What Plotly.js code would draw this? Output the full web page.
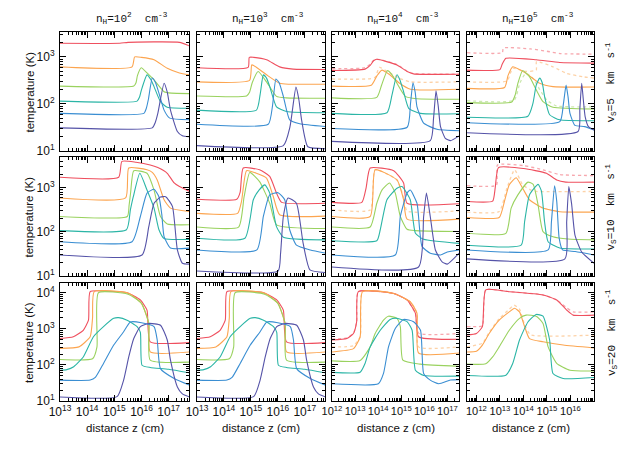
<!DOCTYPE html>
<html><head><meta charset="utf-8">
<script src="https://cdn.plot.ly/plotly-3.0.1.min.js"></script>
<style>html,body{margin:0;padding:0;background:#fff}#chart{width:628px;height:450px}</style>
</head><body><div id="chart"></div>
<script>
// ---------- tick labels ----------
const xTicks12 = [1e13, 1e14, 1e15, 1e16, 1e17];
const xText12 = ['10<sup>13</sup>','10<sup>14</sup>','10<sup>15</sup>','10<sup>16</sup>','10<sup>17</sup>'];
const xTicks3 = [1e12, 1e13, 1e14, 1e15, 1e16, 1e17];
const xText3 = ['10<sup>12</sup>','10<sup>13</sup>','10<sup>14</sup>','10<sup>15</sup>','10<sup>16</sup>','10<sup>17</sup>'];
const xTicks4 = [1e12, 1e13, 1e14, 1e15, 1e16];
const xText4 = ['10<sup>12</sup>','10<sup>13</sup>','10<sup>14</sup>','10<sup>15</sup>','10<sup>16</sup>'];
const yTicks = [10, 100, 1000, 10000];
const yText = ['10<sup>1</sup>','10<sup>2</sup>','10<sup>3</sup>','10<sup>4</sup>'];
const colTitles = ['n<sub>H</sub>=10<sup>2</sup>\u00A0 cm<sup>-3</sup>','n<sub>H</sub>=10<sup>3</sup>\u00A0 cm<sup>-3</sup>','n<sub>H</sub>=10<sup>4</sup>\u00A0 cm<sup>-3</sup>','n<sub>H</sub>=10<sup>5</sup>\u00A0 cm<sup>-3</sup>'];
const rowTitles = ['v<sub>S</sub>=5\u00A0 km\u00A0 s<sup>-1</sup>','v<sub>S</sub>=10\u00A0 km\u00A0 s<sup>-1</sup>','v<sub>S</sub>=20\u00A0 km\u00A0 s<sup>-1</sup>'];

// ---------- data: distance z (cm) and temperature (K) ----------
// row 1 (v=5), col 1 (n=1e2)
const z11r=[1e13,1.6e15,3.2e15,2.5e17,6e17], t11r=[1950,1950,2040,2040,1700];
const z11o=[1e13,4.5e15,5.6e15,1e16,2.9e16,8.9e16,2.5e17,6e17], t11o=[615,615,1000,980,870,575,457,415];
const z11g=[1e13,5.2e15,6.3e15,7.1e15,9.8e15,1.6e16,2.9e16,6.8e16,1.26e17,6e17], t11g=[240,240,282,400,590,457,324,182,170,166];
const z11t=[1e13,6.9e15,8.5e15,1e16,1.6e16,2.2e16,2.9e16,5e16,8.9e16,6e17], t11t=[115,115,140,200,415,330,234,112,85,81];
const z11b=[1e13,1.23e16,1.5e16,1.8e16,2.5e16,3.3e16,4.4e16,6.8e16,1.1e17,6e17], t11b=[63,63,80,126,355,282,170,74,50,46];
const z11d=[1e13,2.5e16,3.2e16,4e16,6.8e16,8.9e16,1.17e17,2.1e17,3.2e17,6e17], t11d=[31,31,40,63,275,178,74,26,21,20];
// row 1, col 2
const z12r=[1e13,7.9e14,8.7e14,1.26e15,3.8e15,1.17e16,3.7e16,6e17], t12r=[590,600,980,980,870,615,550,540];
const z12o=[1e13,8.9e14,1.07e15,1.26e15,3.8e15,1.17e16,2.5e16,6e17], t12o=[295,316,675,660,417,275,263,263];
const z12g=[1e13,6.9e14,9e14,1.12e15,1.86e15,3.8e15,8.9e15,2e16,6e17], t12g=[148,148,180,282,490,295,145,135,132];
const z12t=[1e13,1.6e15,2.2e15,2.9e15,3.8e15,5e15,8.9e15,2.1e16,6e17], t12t=[74,74,158,415,355,234,87,69,65];
const z12b=[1e13,4.4e15,6.3e15,8.5e15,1.12e16,1.6e16,2.75e16,6.5e16,6e17], t12b=[37,37,89,340,282,145,46,38,33];
const z12d=[1e13,1.6e16,2.8e16,4.7e16,6e16,7.6e16,1.3e17,6e17], t12d=[13,13,32,228,126,46,12.3,11.2];
// row 1, col 3
const z13r=[1e12,2.7e13,4.5e13,6.3e13,8.7e13,6.5e14,1.8e15,3.4e15,3.2e17], t13r=[513,550,660,830,890,676,490,437,427];
const t13rd=[560,590,700,850,900,690,500,445,432];
const z13o=[1e12,5e13,8.9e13,1.45e14,3.2e14,7.9e14,2.5e15,3.2e17], t13o=[240,250,400,525,417,282,205,205];
const z13od=[1e12,7.1e13,1.12e14,3.2e14,7.9e14,2.5e15,3.2e17], t13od=[340,363,600,457,355,295,295];
const z13g=[1e12,8.7e13,1.4e14,2.5e14,4e14,6.5e14,1.5e15,4.8e15,3.2e17], t13g=[135,138,250,510,417,275,145,129,126];
const z13t=[1e12,2.4e14,4e14,6.5e14,8.9e14,1.26e15,2.1e15,6.8e15,3.2e17], t13t=[63,65,158,417,316,182,81,63,62];
const z13b=[1e12,1.8e15,2.5e15,3.2e15,4e15,4.8e15,9.3e15,3.5e16,3.2e17], t13b=[30,32,100,282,178,87,39,29,27];
const z13d=[1e12,1.8e16,2.5e16,3.2e16,4e16,5e16,8.1e16,1.35e17,3.2e17], t13d=[16,16.6,50,190,89,33,18.6,16.6,21];
// row 1, col 4
const z14rd=[4e11,1.26e13,1.4e13,2e14,1e15,4e15,1e17], t14rd=[1230,1230,1550,1480,1320,1175,1150];
const z14r=[4e11,1e13,1.26e13,1.8e13,3.5e14,3.5e15,1e17], t14r=[525,537,708,933,870,760,740];
const z14o=[4e11,1.58e13,2.2e13,3.5e13,1.3e14,4.9e14,1.8e15,1e17], t14o=[215,224,400,617,447,275,234,229];
const z14od=[4e11,2e13,3.5e13,1.26e14,3.5e14,3.6e14,1.8e15,6.9e15,3.2e16,1e17], t14od=[295,310,575,490,525,795,617,447,380,355];
const z14g=[4e11,3.2e13,4.5e13,5.8e13,9.3e13,1.8e14,3.5e14,6.8e14,1.8e15,1e17], t14g=[107,110,158,275,513,380,200,112,85,78];
const z14gd=[4e11,4e13,7.1e13,1.26e14,2.5e14,5e14,1e15,2.5e15,1e17], t14gd=[117,120,282,447,355,200,120,91,87];
const z14t=[4e11,1.55e14,2.5e14,3.5e14,4.9e14,6.3e14,7.9e14,1.3e15,3.5e15,1e17], t14t=[52,55,100,251,355,282,145,59,46,44];
const z14b=[4e11,3.5e15,5e15,6.5e15,7.9e15,9.5e15,1.55e16,4e16,1e17], t14b=[40,42,100,251,141,63,35,33,28];
const z14d=[4e11,2.1e16,2.5e16,3e16,3.5e16,4.2e16,5.8e16,1e17], t14d=[24.5,26,79,275,126,54,33,28];
// row 2 (v=10), col 1
const z21r=[1e13,1.45e15,1.9e15,6.3e15,2.1e16,4e16,8.9e16,1.6e17,2.5e17,6e17], t21r=[1740,1740,3980,3800,3310,2880,2140,1290,1070,830];
const z21o=[1e13,2.6e15,3.4e15,1.6e16,2.5e16,3.8e16,6.8e16,1.17e17,6e17], t21o=[590,590,2820,2570,2240,1510,537,347,290];
const z21g=[1e13,3e15,3.5e15,4e15,5.2e15,1.6e16,2.9e16,5e16,8.9e16,6e17], t21g=[224,224,400,795,2450,2140,890,224,151,145];
const z21t=[1e13,2.8e15,3.9e15,5e15,8.7e15,1.6e16,2.9e16,4.4e16,6.8e16,6e17], t21t=[107,112,316,630,2140,890,347,112,71,68];
const z21b=[1e13,4.5e15,9.1e15,1.6e16,2.9e16,4.4e16,5.6e16,6.8e16,1.17e17,6e17], t21b=[60,60,224,760,930,630,250,78,43,43];
const z21d=[1e13,1.05e16,1.86e16,2.9e16,5e16,7.8e16,1.38e17,2.1e17,3.2e17,6e17], t21d=[30,30,132,447,617,630,380,39,19.5,18.6];
// row 2, col 2
const z22r=[1e13,3e14,4e14,5.2e14,2.1e15,5e15,8.9e15,1.38e16,6e17], t22r=[550,550,800,2820,2570,1820,760,468,447];
const z22o=[1e13,3.2e14,4.5e14,6.9e14,1.6e15,3.8e15,6.8e15,1.17e16,6e17], t22o=[263,263,500,2450,2140,1660,630,245,229];
const z22g=[1e13,3.5e14,5.6e14,9.1e14,2.1e15,5e15,8.9e15,6e17], t22g=[129,129,630,2240,1380,447,145,120];
const z22t=[1e13,6e14,1.23e15,2e15,3.3e15,5e15,8.9e15,1.6e16,6e17], t22t=[72,72,537,890,1170,760,132,76,66];
const z22b=[1e13,1.66e15,2.9e15,5e15,1.02e16,1.8e16,2.75e16,4.9e16,1.6e17,6e17], t22b=[39,39,224,692,776,537,112,50,39,33];
const z22d=[1e13,1.02e16,1.26e16,1.6e16,2.4e16,4.9e16,8.7e16,1.55e17,6e17], t22d=[13,13,32,224,589,447,55,13.8,12];
// row 2, col 3
const z23r=[1e12,1.95e13,3e13,4.5e13,4.7e14,1.26e15,1.78e15,3.2e17], t23r=[468,468,1000,2820,2450,1290,447,437];
const z23o=[1e12,4.5e13,7.4e13,6.5e14,1.26e15,1.78e15,3.2e17], t23o=[224,224,2570,1510,537,195,195];
const t23od=[316,316,2570,1510,600,300,300];
const z23g=[1e12,4.5e13,8.7e13,1.45e14,3.1e14,5.5e14,9.1e14,1.78e15,4e15,3.2e17], t23g=[129,129,447,890,1290,760,224,115,107,102];
const z23t=[1e12,8.7e13,1.23e14,2.4e14,6.5e14,1.07e15,2.45e15,4.1e15,9.3e15,3.2e17], t23t=[63,63,112,537,977,1070,537,93,68,55];
const z23b=[1e12,5.5e14,9.1e14,1.78e15,2.45e15,4.8e15,7.9e15,1.8e16,5e16,9.8e16,3.2e17], t23b=[30,30,224,760,890,447,47,33,30,35,39];
const z23d=[1e12,5.6e15,9.3e15,1.23e16,1.8e16,3e16,5.9e16,9.8e16,3.2e17], t23d=[16,16,224,760,224,39,21,18.6,33];
// row 2, col 4
const z24rd=[4e11,7.1e12,7.9e12,1e14,6.8e14,3.5e15,1e17], t24rd=[1120,1150,3300,3200,2570,2000,1900];
const z24r=[4e11,4.9e12,6.3e12,8.7e12,1e14,9.5e14,2.6e15,6.3e15,1e17], t24r=[490,500,1000,2880,2750,2140,1510,1350,1350];
const z24o=[4e11,9.3e12,1.55e13,2.5e13,4.9e13,9.3e13,1.8e14,6.8e14,3.5e15,1e17], t24o=[213,213,490,1175,1700,977,537,347,288,282];
const z24od=[4e11,9.3e12,2e13,4.2e13,9.3e13,2e14,3.5e14,1e17], t24od=[282,290,1000,2570,1175,900,830,830];
const z24g=[4e11,1.8e13,3e13,5.8e13,1.55e14,2.6e14,4.2e14,6.8e14,1.8e15,7.9e15,1e17], t24g=[93,93,347,692,1350,1200,407,102,78,69,66];
const z24t=[4e11,8e13,1.12e14,1.8e14,4.2e14,5.8e14,7.9e14,1.12e15,3.5e15,1e17], t24t=[50,50,170,692,1200,850,170,60,43,41];
const z24b=[4e11,1.12e15,1.55e15,2.1e15,2.6e15,3.3e15,4.6e15,1.6e16,1e17], t24b=[39,39,170,1120,500,72,39,36,30];
const z24d=[4e11,5.8e15,6.9e15,8.5e15,1.12e16,1.55e16,3e16,1e17], t24d=[24.5,24.5,170,1070,427,85,35,19.5];
// row 3 (v=20), col 1
const z31r=[1e13,3.1e13,7.2e13,1.12e14,1.29e14,6.3e14,2.95e15,9.1e15,1.6e16,2.1e16,6e17], t31r=[537,603,912,1740,10700,11000,10000,6310,3310,437,417];
const z31o=[1e13,5e13,1.29e14,1.58e14,1.82e14,3.2e15,1e16,1.86e16,2.1e16,6e17], t31o=[288,316,603,2000,10700,9800,5100,1410,229,229];
const z31g=[1e13,1.58e14,2.3e14,2.6e14,3.2e15,1e16,1.86e16,2.1e16,6e17], t31g=[141,148,316,10000,9100,5100,1410,135,120];
const z31t=[1e13,1.78e13,3.2e13,7.2e13,1.7e14,4e14,9.5e14,1.45e15,2.95e15,6.9e15,9.1e15,1.05e16,2.1e16,1e17,6e17], t31t=[71,74,89,166,603,1150,1950,2040,1740,1150,794,98,85,76,60];
const z31b=[1e13,1.29e14,2e14,4e14,9.5e14,2.2e15,3.9e15,1e16,2.9e16,3.8e16,5e16,1.6e17,6e17], t31b=[38,38,45,110,355,830,1550,1480,1150,490,79,42,27.5];
const z31d=[1e13,1.26e15,2.2e15,3.4e15,5.2e15,9.1e15,1.86e16,5e16,8.9e16,1.17e17,2.1e17,3.2e17,6e17], t31d=[12.9,13.2,38,166,537,1150,1410,1260,490,135,24.5,15.8,12.9];
// row 3, col 2
const z32r=[1e13,3.1e13,7.2e13,1.12e14,1.29e14,6.3e14,2.95e15,9.1e15,1.6e16,2.1e16,6e17], t32r=[537,603,912,1740,10700,11000,10000,6310,3310,437,417];
const z32o=[1e13,5e13,1.29e14,1.58e14,1.82e14,3.2e15,1e16,1.86e16,2.1e16,6e17], t32o=[288,316,603,2000,10700,9800,5100,1410,229,229];
const z32g=[1e13,1.58e14,2.3e14,2.6e14,3.2e15,1e16,1.86e16,2.1e16,6e17], t32g=[141,148,316,10000,9100,5100,1410,135,120];
const z32t=[1e13,1.78e13,3.2e13,7.2e13,1.7e14,4e14,9.5e14,1.45e15,2.95e15,6.9e15,9.1e15,1.05e16,2.1e16,1e17,6e17], t32t=[71,74,89,166,603,1150,1950,2040,1740,1150,794,98,85,76,60];
const z32b=[1e13,1.29e14,2e14,4e14,9.5e14,2.2e15,3.9e15,1e16,2.9e16,3.8e16,5e16,1.6e17,6e17], t32b=[38,38,45,110,355,830,1550,1480,1150,490,79,42,27.5];
const z32d=[1e13,1.26e15,2.2e15,3.4e15,5.2e15,9.1e15,1.86e16,5e16,8.9e16,1.17e17,2.1e17,3.2e17,6e17], t32d=[12.9,13.2,38,166,537,1150,1410,1260,490,135,24.5,15.8,12.9];
// row 3, col 3
const z33r=[1e12,4.4e12,8.5e12,1.17e13,1.38e13,4.7e14,1.78e15,4.1e15,5.6e15,3.2e17], t33r=[490,537,741,1580,10700,9550,6310,2690,603,513];
const t33rd=[520,560,760,1580,10700,9550,6310,2690,760,741];
const z33o=[1e12,8.5e12,1.66e13,2.1e13,4.7e14,2.45e15,4.8e15,5.6e15,3.2e17], t33o=[229,282,603,10700,9550,5620,2690,214,214];
const t33od=[316,340,603,10700,9550,5620,2690,316,316];
const z33g=[1e12,1.66e13,4.5e13,7.4e13,1.7e14,2.8e14,6.5e14,9.1e14,1.17e15,6.8e15,3.2e17], t33g=[129,132,316,741,1740,2240,1950,1150,135,105,91];
const z33t=[1e12,1.66e13,2.7e13,4.5e13,1.23e14,3.3e14,6.5e14,1.78e15,2.95e15,4.1e15,9.3e15,3.2e17], t33t=[62,63,110,316,912,1820,1950,1580,912,71,51,49];
const z33b=[1e12,1.02e14,1.7e14,2.8e14,5.5e14,1.26e15,3.4e15,6.8e15,9.3e15,1.8e16,4.2e16,1.35e17,3.2e17], t33b=[30,30,58,316,1020,1820,1580,912,58,38,30,38,39];
// row 3, col 4
const z34r=[4e11,1e12,1.8e12,2.5e12,2.5e13,6.8e14,2.6e15,6.9e15,1.3e16,1e17], t34r=[676,741,1150,12000,10700,8700,6310,3310,2400,2400];
const t34rd=[1150,1150,1200,12000,10700,8700,6310,3800,2950,2950];
const z34o=[4e11,1e12,1.8e12,3.5e12,9.3e12,2.5e13,4.2e13,6.8e13,1.12e14,1.8e14,6.8e14,4.9e15,1e17], t34o=[229,240,355,741,1740,2950,3700,2950,1150,537,437,355,295];
const z34od=[4e11,1.8e12,3.5e12,9.3e12,2.5e13,4e13,6.8e13,1.12e14,2e14,1e17], t34od=[316,400,800,1900,3500,4570,3500,1300,690,670];
const z34g=[4e11,2.5e12,4.9e12,9.3e12,2.5e13,6.8e13,1.3e14,3.5e14,6.8e14,1.12e15,2.6e15,9.5e15,1e17], t34g=[105,107,166,316,912,1950,2400,2240,1410,316,110,71,68];
const z34t=[4e11,1.8e13,3.5e13,6.8e13,1.55e14,3.5e14,6.8e14,1.3e15,1.8e15,4.9e15,1e17], t34t=[51,52,110,490,1550,2510,2240,490,58,42,45];

// ---------- styling ----------
const COL = {r:'#ef4f5e', o:'#fca550', g:'#9ad25f', t:'#2bb5a6', b:'#3a8ed2', d:'#5553a8'};
const W = 628, H = 450;
const colPx = [[60,189],[197,325],[332,459],[467,594]];
const rowPx = [[32,151],[157,276],[283,401]];
const xRanges = [[13,17.75],[13,17.75],[12,17.5],[11.6,17.0]];
const yRanges = [[1,3.53],[1,3.7],[1,4.27]];

// panels: [row, col, list of [z, T, colour, dotted]]
const panels = [
 [1,1,[[z11r,t11r,'r'],[z11o,t11o,'o'],[z11g,t11g,'g'],[z11t,t11t,'t'],[z11b,t11b,'b'],[z11d,t11d,'d']]],
 [1,2,[[z12r,t12r,'r'],[z12o,t12o,'o'],[z12g,t12g,'g'],[z12t,t12t,'t'],[z12b,t12b,'b'],[z12d,t12d,'d']]],
 [1,3,[[z13r,t13rd,'r',1],[z13od,t13od,'o',1],[z13r,t13r,'r'],[z13o,t13o,'o'],[z13g,t13g,'g'],[z13t,t13t,'t'],[z13b,t13b,'b'],[z13d,t13d,'d']]],
 [1,4,[[z14rd,t14rd,'r',1],[z14od,t14od,'o',1],[z14gd,t14gd,'g',1],[z14r,t14r,'r'],[z14o,t14o,'o'],[z14g,t14g,'g'],[z14t,t14t,'t'],[z14b,t14b,'b'],[z14d,t14d,'d']]],
 [2,1,[[z21r,t21r,'r'],[z21o,t21o,'o'],[z21g,t21g,'g'],[z21t,t21t,'t'],[z21b,t21b,'b'],[z21d,t21d,'d']]],
 [2,2,[[z22r,t22r,'r'],[z22o,t22o,'o'],[z22g,t22g,'g'],[z22t,t22t,'t'],[z22b,t22b,'b'],[z22d,t22d,'d']]],
 [2,3,[[z23o,t23od,'o',1],[z23r,t23r,'r'],[z23o,t23o,'o'],[z23g,t23g,'g'],[z23t,t23t,'t'],[z23b,t23b,'b'],[z23d,t23d,'d']]],
 [2,4,[[z24rd,t24rd,'r',1],[z24od,t24od,'o',1],[z24r,t24r,'r'],[z24o,t24o,'o'],[z24g,t24g,'g'],[z24t,t24t,'t'],[z24b,t24b,'b'],[z24d,t24d,'d']]],
 [3,1,[[z31r,t31r,'r'],[z31o,t31o,'o'],[z31g,t31g,'g'],[z31t,t31t,'t'],[z31b,t31b,'b'],[z31d,t31d,'d']]],
 [3,2,[[z32r,t32r,'r'],[z32o,t32o,'o'],[z32g,t32g,'g'],[z32t,t32t,'t'],[z32b,t32b,'b'],[z32d,t32d,'d']]],
 [3,3,[[z33r,t33rd,'r',1],[z33o,t33od,'o',1],[z33r,t33r,'r'],[z33o,t33o,'o'],[z33g,t33g,'g'],[z33t,t33t,'t'],[z33b,t33b,'b']]],
 [3,4,[[z34r,t34rd,'r',1],[z34od,t34od,'o',1],[z34r,t34r,'r'],[z34o,t34o,'o'],[z34g,t34g,'g'],[z34t,t34t,'t']]]
];

// minor tick positions (2..9 per decade), axis decoration only
const minorVals = [];
for (let e = 0; e <= 18; e++) for (let m = 2; m <= 9; m++) minorVals.push(m * Math.pow(10, e));

const traces = [];
const layout = {
  width: W, height: H, margin: {l:0, r:0, t:0, b:0},
  paper_bgcolor: '#fff', plot_bgcolor: '#fff', showlegend: false, hovermode: false,
  font: {family: 'Liberation Sans, Arial, sans-serif', size: 12, color: '#111'},
  annotations: []
};

panels.forEach(([r, c, curves]) => {
  const idx = (r - 1) * 4 + c;
  const xa = 'x' + (idx === 1 ? '' : idx), ya = 'y' + (idx === 1 ? '' : idx);
  curves.forEach(([z, t, k, dot]) => {
    traces.push({
      x: z, y: t, xaxis: xa, yaxis: ya, type: 'scatter', mode: 'lines',
      line: {color: COL[k], width: dot ? 1.3 : 1.1, dash: dot ? 'dot' : 'solid', shape: 'spline', smoothing: 0.5},
      opacity: dot ? 0.5 : 1
    });
  });
  const xt = c <= 2 ? [xTicks12, xText12] : (c === 3 ? [xTicks3, xText3] : [xTicks4, xText4]);
  const common = {
    type: 'log', showgrid: false, zeroline: false, showline: true, linecolor: '#000', linewidth: 1,
    mirror: 'allticks', ticks: 'inside', ticklen: 6, tickwidth: 1, tickcolor: '#000', tickangle: 0,
    tickfont: {size: 12, color: '#111'},
    minor: {ticks: 'inside', ticklen: 3, tickwidth: 1, tickcolor: '#000', tickmode: 'array', tickvals: minorVals}
  };
  layout['xaxis' + (idx === 1 ? '' : idx)] = Object.assign({}, common, {
    domain: [colPx[c-1][0] / W, colPx[c-1][1] / W], range: xRanges[c-1],
    anchor: ya, tickmode: 'array', tickvals: xt[0], ticktext: xt[1],
    showticklabels: r === 3, tickfont: {size: c <= 2 ? 12 : 11, color: '#111'}
  });
  layout['yaxis' + (idx === 1 ? '' : idx)] = Object.assign({}, common, {
    domain: [1 - rowPx[r-1][1] / H, 1 - rowPx[r-1][0] / H], range: yRanges[r-1],
    anchor: xa, tickmode: 'array', tickvals: yTicks, ticktext: yText,
    showticklabels: c === 1, ticklabelstandoff: 2
  });
});

// titles
colPx.forEach((p, i) => {
  layout.annotations.push({text: colTitles[i], xref: 'paper', yref: 'paper', x: ((p[0]+p[1])/2 + 7) / W, y: 1 - 18 / H,
    showarrow: false, xanchor: 'center', yanchor: 'middle', font: {family: 'Liberation Mono, Courier New, monospace', size: 11, color: '#111'}});
  layout.annotations.push({text: 'distance z (cm)', xref: 'paper', yref: 'paper', x: (p[0]+p[1])/2 / W, y: 1 - 428 / H,
    showarrow: false, xanchor: 'center', yanchor: 'middle', font: {size: 11.5, color: '#111'}});
});
rowPx.forEach((p, i) => {
  layout.annotations.push({text: rowTitles[i], xref: 'paper', yref: 'paper', x: 611 / W, y: 1 - ((p[0]+p[1])/2 - 9) / H,
    showarrow: false, textangle: -90, xanchor: 'center', yanchor: 'middle', font: {family: 'Liberation Mono, Courier New, monospace', size: 11, color: '#111'}});
  layout.annotations.push({text: 'temperature (K)', xref: 'paper', yref: 'paper', x: 29 / W, y: 1 - (p[0]+p[1])/2 / H,
    showarrow: false, textangle: -90, xanchor: 'center', yanchor: 'middle', font: {size: 11.5, color: '#111'}});
});

Plotly.newPlot('chart', traces, layout, {staticPlot: true, displayModeBar: false});
</script>
</body></html>
